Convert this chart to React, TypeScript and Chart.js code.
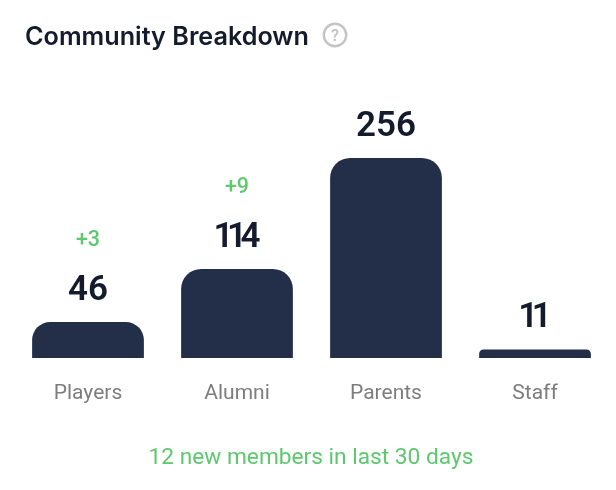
import React, { useEffect, useRef } from "react";
import { Chart, registerables } from "chart.js";

Chart.register(...registerables);

const categories = ["Players", "Alumni", "Parents", "Staff"];
const members = [46, 114, 256, 11];
const newMembers = ["+3", "+9", "", ""];
const titleText = "Community Breakdown";
const footerText = "12 new members in last 30 days";

const NAVY = "#232e48";
const INK = "#141b2d";
const GREEN = "#5dc86e";
const GREY = "#7d7d7d";

const labelsPlugin = {
  id: "labelsPlugin",
  afterDraw(chart: any) {
    const { ctx } = chart;
    const meta = chart.getDatasetMeta(0);
    ctx.save();
    ctx.textAlign = "center";
    ctx.textBaseline = "alphabetic";
    meta.data.forEach((bar: any, i: number) => {
      const text = String(members[i]);
      const spacing = text.includes("1") ? -6.5 : 0;
      ctx.fillStyle = INK;
      ctx.font = "600 35px Roboto";
      ctx.letterSpacing = spacing + "px";
      ctx.fillText(text, bar.x + spacing / 2, bar.y - 22);
      ctx.letterSpacing = "0px";
      if (newMembers[i]) {
        ctx.fillStyle = GREEN;
        ctx.font = "500 21.5px Roboto";
        ctx.fillText(newMembers[i], bar.x, bar.y - 76);
      }
    });
    ctx.fillStyle = GREEN;
    ctx.font = "400 22.7px Roboto";
    ctx.fillText(footerText, 311, 464);
    ctx.textAlign = "left";
    ctx.fillStyle = INK;
    ctx.font = "600 25.2px Inter";
    ctx.fillText(titleText, 25, 45);
    ctx.strokeStyle = "#c4c4c4";
    ctx.lineWidth = 2.4;
    ctx.beginPath();
    ctx.arc(335, 35, 11.2, 0, Math.PI * 2);
    ctx.stroke();
    ctx.fillStyle = "#c4c4c4";
    ctx.textAlign = "center";
    ctx.font = "600 16px Roboto";
    ctx.fillText("?", 335, 41);
    ctx.restore();
  },
};

export default function App() {
  const ref = useRef<HTMLCanvasElement>(null);
  useEffect(() => {
    const chart = new Chart(ref.current!, {
      type: "bar",
      data: {
        labels: categories,
        datasets: [
          {
            data: members,
            backgroundColor: NAVY,
            borderRadius: { topLeft: 20, topRight: 20, bottomLeft: 0, bottomRight: 0 },
            borderSkipped: "bottom",
            barPercentage: 1,
            categoryPercentage: 0.75,
          },
        ],
      },
      options: {
        responsive: false,
        animation: false,
        layout: { padding: { left: 13.5, right: 6.5, top: 158, bottom: 82 } },
        plugins: { legend: { display: false }, title: { display: false }, tooltip: { enabled: false } },
        scales: {
          y: { display: false, min: 0, max: 256 },
          x: {
            grid: { display: false },
            border: { display: false },
            afterFit(axis: any) {
              axis.height = 50;
            },
            ticks: {
              color: GREY,
              padding: 15,
              font: { family: "Roboto", size: 21, weight: "400" },
              maxRotation: 0,
            },
          },
        },
      },
      plugins: [labelsPlugin],
    });
    return () => chart.destroy();
  }, []);
  return (
    <canvas
      ref={ref}
      width={616}
      height={490}
      style={{ position: "absolute", left: 0, top: 0, width: 616, height: 490 }}
    />
  );
}
